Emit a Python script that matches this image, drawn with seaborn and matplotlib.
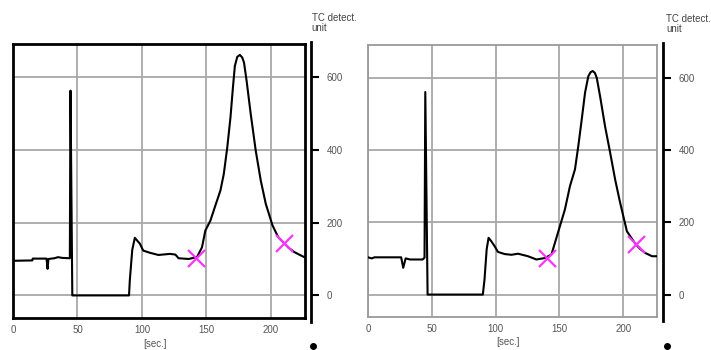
import numpy as np
import pandas as pd
import matplotlib
matplotlib.use("Agg")
import matplotlib.pyplot as plt
import seaborn as sns

# trace of the first run (left panel)
time_a = [0, 15, 15.3, 26, 26.8, 27.5, 32, 35, 38, 44.1, 44.4, 44.6, 46, 47, 90, 90.6, 92.5, 94.5,
          98.4, 101, 106.2, 112.8, 121.9, 126, 128.4, 136.2, 142.7, 146.6, 149.2, 153.1, 157,
          160.9, 163.5, 166.2, 168.7, 170.6, 172.1, 174, 176, 177.8, 179.2, 181.2, 184.4,
          188.3, 192.2, 196.1, 201.3, 205.7, 210.4, 214, 218.2, 222, 226]
tc_a = [95, 96, 101, 101, 73, 100, 102, 105, 103, 102, 400, 562, 0, 0, 0, 41, 125, 158,
        142, 123, 117, 111, 114, 112, 102, 100, 105, 132, 178, 205, 247,
        288, 333, 406, 489, 571, 630, 655, 660, 653, 639, 589, 498,
        397, 315, 251, 192, 160, 143, 130, 119, 112, 105]

# trace of the second run (right panel)
time_b = [0, 3, 5, 8, 26, 27.6, 29.5, 33, 42.8, 44.3, 44.9, 46.7, 90, 91.3, 93, 94.5, 96.5,
          99.2, 101.8, 107.1, 112.4, 117.6, 125.4, 132, 138.6, 143.8, 146.5, 150.4, 154.3,
          158.3, 162.2, 164.8, 167.5, 170.1, 172.7, 174.5, 176.1, 177.8, 179.3, 181.9, 185.8,
          189.8, 193.7, 197.6, 202.9, 209.4, 213, 217.3, 222.6, 227.8]
tc_b = [103, 100, 103, 103, 103, 74, 100, 97, 97, 102, 560, 0, 0, 41, 125, 157, 148,
        134, 118, 112, 110, 113, 106, 97, 101, 111, 143, 189, 235,
        300, 346, 410, 484, 558, 604, 615, 618, 613, 599, 548, 465,
        392, 318, 254, 175, 141, 127, 115, 106, 106]

# integration limits (magenta crosses)
mark_t_a = [142, 210]
mark_y_a = [104, 143]
mark_t_b = [140, 210]
mark_y_b = [101, 140]

x_ticks = [0, 50, 100, 150, 200]
y_ticks = [0, 200, 400, 600]

sns.set_style("white")
plt.rcParams['font.family'] = ['Liberation Sans', 'DejaVu Sans']

fig = plt.figure(figsize=(7.11, 3.5), dpi=100)
ax1 = fig.add_axes([13 / 711, 32 / 350, 292 / 711, 274 / 350])
ax2 = fig.add_axes([368 / 711, 33 / 350, 289 / 711, 272 / 350])

panels = [
    (ax1, time_a, tc_a, mark_t_a, mark_y_a, 'black', 2.0, 1.026, -0.102),
    (ax2, time_b, tc_b, mark_t_b, mark_y_b, '#9a9a9a', 1.3, 1.035, -0.107),
]

for ax, t, y, mt, my, frame_col, frame_lw, dot_x, dot_y in panels:
    df = pd.DataFrame({'t': t, 'tc': y})
    sns.lineplot(data=df, x='t', y='tc', ax=ax, color='black', lw=1.5, sort=False,
                 estimator=None, zorder=3)
    sns.scatterplot(x=mt, y=my, ax=ax, marker='x', s=150, color='#ff33ff',
                    linewidth=1.6, zorder=4)

    ax.set_xlim(0, 226.5)
    ax.set_ylim(-62, 690)
    ax.set_xticks(x_ticks)
    ax.set_yticks(y_ticks)
    ax.grid(True, color='#a8a8a8', lw=1.3)
    ax.set_axisbelow(True)
    ax.tick_params(axis='x', length=0, labelsize=7, labelcolor='#555555', pad=5)
    ax.tick_params(axis='y', length=0, labelleft=False)
    ax.set_xlabel('[sec.]', fontsize=7, color='#555555', labelpad=0)
    ax.xaxis.set_label_coords(0.485, -0.075)
    ax.set_ylabel('')
    for sp in ax.spines.values():
        sp.set_visible(True)
        sp.set_color(frame_col)
        sp.set_linewidth(frame_lw)

    # detached value axis on the right
    sec = ax.secondary_yaxis(1.022)
    sec.set_yticks(y_ticks)
    sec.tick_params(axis='y', length=6, width=1.5, color='black', labelsize=7,
                    labelcolor='#555555', pad=5)
    sec.spines['right'].set_linewidth(2)
    sec.spines['right'].set_color('black')
    sec.spines['right'].set_bounds(-72, 695)

    ax.text(dot_x - 0.003, 1.04, 'TC detect.\nunit', transform=ax.transAxes, fontsize=7,
            color='#444444', ha='left', va='bottom', linespacing=1.05)
    ax.plot([dot_x], [dot_y], 'o', color='black', ms=4, transform=ax.transAxes,
            clip_on=False)

fig.savefig('out.png', dpi=100)
